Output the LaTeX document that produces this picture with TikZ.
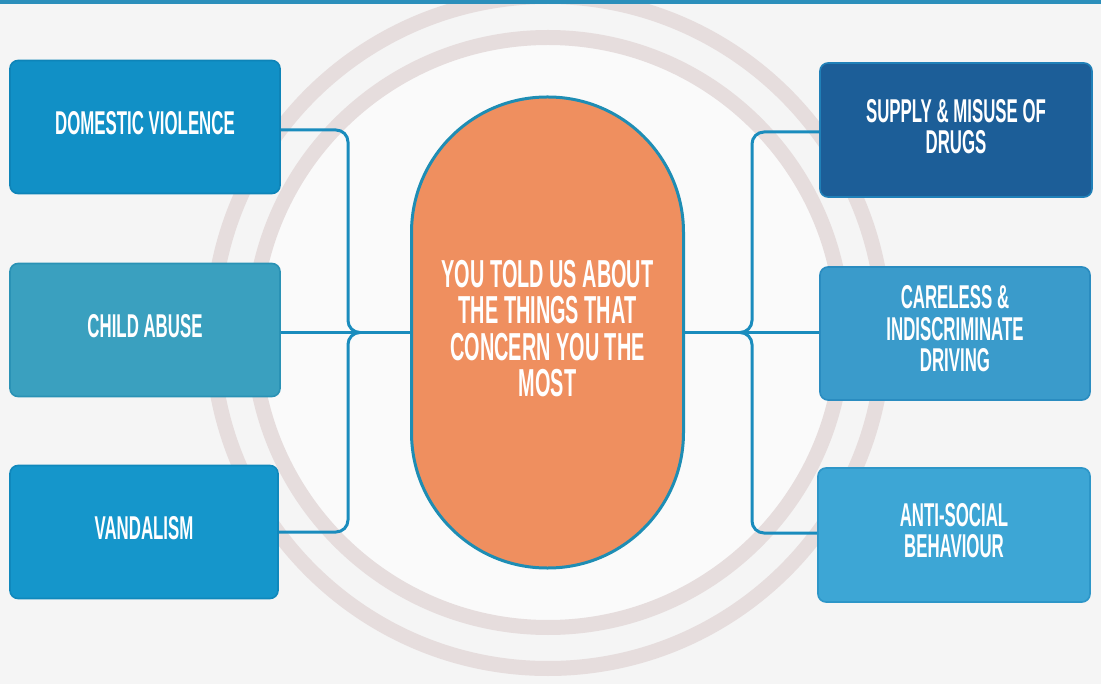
\documentclass[tikz,border=0pt]{standalone}
\usepackage{fontspec}
\setmainfont{Liberation Sans}[FakeStretch=0.51]
\definecolor{bgcol}{HTML}{F5F5F5}
\definecolor{incol}{HTML}{FAFAFA}
\definecolor{ringcol}{HTML}{E6DDDD}
\definecolor{barcol}{HTML}{2B8FBB}
\definecolor{conncol}{HTML}{1A8CBD}
\definecolor{pillfill}{HTML}{EF8F5F}
\definecolor{pilledge}{HTML}{1E8DB4}
\definecolor{dvcol}{HTML}{1190C6}
\definecolor{dvedge}{HTML}{0E84B8}
\definecolor{chcol}{HTML}{3AA0BF}
\definecolor{chedge}{HTML}{2A92B5}
\definecolor{vacol}{HTML}{1596CB}
\definecolor{vaedge}{HTML}{1088BC}
\definecolor{sucol}{HTML}{1C5E98}
\definecolor{suedge}{HTML}{2080B8}
\definecolor{cacol}{HTML}{3A9BCB}
\definecolor{caedge}{HTML}{2A8CC0}
\definecolor{ancol}{HTML}{3DA6D5}
\definecolor{anedge}{HTML}{2D96C8}
\begin{document}
\begin{tikzpicture}[x=1pt,y=-1pt,
  box/.style={rectangle, rounded corners=8pt, draw, line width=1.6pt,
    inner sep=0pt, minimum width=270pt, minimum height=133pt},
  boxtext/.style={text=white, font=\bfseries\fontsize{33}{31.5}\selectfont,
    align=center, inner sep=0pt},
  conn/.style={draw=conncol, line width=3pt, rounded corners=12pt},
  ring/.style={draw=ringcol, line width=15pt},
  pillstyle/.style={rectangle, rounded corners=135.5pt, draw=pilledge, fill=pillfill,
    line width=3pt, minimum width=272pt, minimum height=471pt, inner sep=0pt},
  pilltext/.style={text=white, align=center, inner sep=0pt,
    font=\bfseries\fontsize{39}{36.5}\selectfont}
]
\useasboundingbox (0,0) rectangle (1101,684);
\fill[bgcol] (0,0) rectangle (1101,684);
\begin{scope}
  \clip (0,0) rectangle (1101,684);
  \fill[incol] (548,332.5) circle[radius=295];
  \draw[ring] (548,332.5) circle[radius=295];
  \draw[ring] (548,332.5) circle[radius=336];
\end{scope}
\fill[barcol] (0,0) rectangle (1101,4);

% center
\node[pillstyle] (pill) at (547.5,332.5) {};
\node[pilltext] (pillt) at ([yshift=4pt]pill.center) {YOU TOLD US ABOUT\\THE THINGS THAT\\CONCERN YOU THE\\MOST};

% left boxes
\node[box, fill=dvcol, draw=dvedge] (dv) at (145,127) {};
\node[boxtext] (dvt) at ([yshift=3.5pt]dv.center) {DOMESTIC VIOLENCE};
\node[box, fill=chcol, draw=chedge] (child) at (145,330) {};
\node[boxtext] (childt) at ([yshift=3.5pt]child.center) {CHILD ABUSE};
\node[box, fill=vacol, draw=vaedge, minimum width=268pt] (vand) at (144,532) {};
\node[boxtext] (vandt) at ([yshift=3.5pt]vand.center) {VANDALISM};

% right boxes
\node[box, fill=sucol, draw=suedge, minimum width=272pt, minimum height=134pt] (supply) at (956,130) {};
\node[boxtext] (supplyt) at ([yshift=3.5pt]supply.center) {SUPPLY \& MISUSE OF\\DRUGS};
\node[box, fill=cacol, draw=caedge] (careless) at (955,333.5) {};
\node[boxtext] (carelesst) at ([yshift=4.5pt]careless.center) {CARELESS \&\\INDISCRIMINATE\\DRIVING};
\node[box, fill=ancol, draw=anedge, minimum width=272pt, minimum height=134pt] (anti) at (954,535) {};
\node[boxtext] (antit) at ([yshift=4.5pt]anti.center) {ANTI-SOCIAL\\BEHAVIOUR};

% brace coordinates
\coordinate (lbr) at (348,332.5);
\coordinate (ltip) at (360,332.5);
\coordinate (rbr) at (752,332.5);
\coordinate (rtip) at (740,332.5);

% left connectors
\draw[conn] ([yshift=-3pt]dv.east) -- ([yshift=-3pt]dv.east -| lbr) -- (lbr) -- (ltip);
\draw[conn] (ltip) -- (lbr) -- (lbr |- vand.east) -- (vand.east);
\draw[conn] (pill.west -| child.east) -- (pill.west);

% right connectors
\draw[conn] ([yshift=-2pt]supply.west) -- ([yshift=-2pt]supply.west -| rbr) -- (rbr) -- (rtip);
\draw[conn] (rtip) -- (rbr) -- ([yshift=2pt]rbr |- anti.west) -- ([yshift=2pt]anti.west);
\draw[conn] (pill.east) -- (pill.east -| careless.west);
\end{tikzpicture}
\end{document}
